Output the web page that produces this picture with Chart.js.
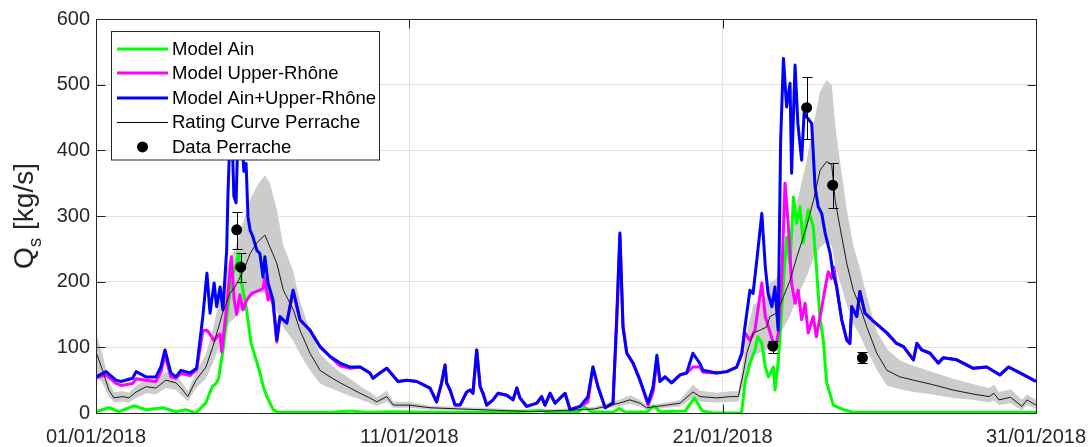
<!DOCTYPE html>
<html>
<head>
<meta charset="utf-8">
<script src="https://cdn.jsdelivr.net/npm/chart.js@4.4.1/dist/chart.umd.min.js"></script>
<style>
  html, body { margin: 0; padding: 0; background: #fff; }
  canvas { display: block; }
</style>
</head>
<body>
<canvas id="qsChart" width="1091" height="447"></canvas>
<script>
// x values are days since 01/01/2018, y values are Qs in kg/s

const xTickValues = [0, 10, 20, 30];
const xTickLabels = ['01/01/2018', '11/01/2018', '21/01/2018', '31/01/2018'];

// Model Ain+Upper-Rhône (blue)
const blueDays = [0, 0.32, 0.64, 0.80, 1.17, 1.28, 1.60, 1.91, 2.07, 2.20, 2.39, 2.55, 2.71, 3.00, 3.21,
  3.41, 3.54, 3.64, 3.77, 3.85, 3.96, 4.05, 4.17, 4.21, 4.28, 4.36, 4.40, 4.47, 4.53, 4.63, 4.72, 4.79,
  4.85, 4.92, 5.01, 5.13, 5.23, 5.33, 5.39, 5.49, 5.65, 5.77, 5.87, 6.09, 6.29, 6.51, 6.83, 7.15, 7.47,
  7.79, 8.11, 8.43, 8.74, 8.84, 9.06, 9.28, 9.64, 9.92, 10.24, 10.66, 10.87, 11.03, 11.14, 11.19, 11.30,
  11.46, 11.62, 11.83, 11.94, 12.03, 12.15, 12.26, 12.35, 12.47, 12.67, 12.83, 13.11, 13.31, 13.43, 13.53,
  13.75, 14.07, 14.22, 14.33, 14.49, 14.65, 14.97, 15.13, 15.45, 15.70, 15.86, 16.02, 16.25, 16.50, 16.62,
  16.72, 16.82, 16.94, 17.14, 17.36, 17.62, 17.78, 17.90, 18.00, 18.16, 18.37, 18.64, 18.85, 19.05, 19.28,
  19.37, 19.81, 20.13, 20.45, 20.61, 20.71, 20.87, 20.97, 21.09, 21.25, 21.36, 21.45, 21.57, 21.67, 21.77,
  21.85, 21.94, 22.04, 22.15, 22.20, 22.31, 22.40, 22.52, 22.60, 22.68, 22.84, 22.95, 23.05, 23.16, 23.27,
  23.43, 23.52, 23.64, 23.80, 23.96, 24.06, 24.12, 24.28, 24.38, 24.54, 24.76, 25.02, 25.24, 25.55, 25.77,
  26.09, 26.20, 26.35, 26.62, 26.88, 27.04, 27.47, 28.00, 28.43, 28.85, 29.12, 29.49, 30.00];
const blueValues = [55, 63, 50, 48, 53, 63, 55, 55, 70, 96, 61, 55, 65, 61, 68,
  147, 213, 152, 198, 162, 192, 157, 248, 330, 430, 395, 330, 320, 425, 440, 368, 380,
  299, 278, 268, 248, 243, 207, 238, 198, 172, 111, 147, 137, 187, 142, 126, 101, 86,
  76, 70, 70, 61, 53, 61, 68, 48, 50, 48, 38, 17, 46, 73, 46, 35,
  12, 12, 32, 35, 30, 96, 40, 30, 12, 20, 30, 27, 20, 38, 23,
  10, 15, 25, 12, 30, 15, 30, 5, 10, 25, 70, 40, 8, 15, 147,
  274, 131, 91, 76, 50, 15, 40, 88, 48, 55, 46, 58, 61, 91, 75,
  65, 61, 63, 70, 91, 131, 187, 182, 233, 304, 223, 182, 162, 192, 126,
  415, 540, 466, 502, 365, 530, 441, 385, 457, 451, 441, 344, 314, 304, 274,
  243, 213, 192, 142, 111, 106, 162, 147, 185, 152, 142, 131, 122, 106, 101,
  81, 106, 96, 91, 76, 84, 81, 68, 70, 58, 70, 61, 48];

// Model Upper-Rhône (magenta)
const magentaDays = [0, 0.32, 0.64, 0.80, 1.17, 1.28, 1.60, 1.91, 2.07, 2.20, 2.39, 2.55, 2.71, 3.00, 3.21,
  3.41, 3.54, 3.64, 3.77, 3.85, 3.96, 4.01, 4.17, 4.32, 4.41, 4.49, 4.59, 4.69, 4.81, 4.97, 5.23, 5.33,
  5.39, 5.49, 5.55, 5.65, 5.77, 5.87, 6.09, 6.29, 6.51, 6.83, 7.15, 7.47, 7.79, 8.11, 8.43, 8.74, 8.84,
  9.06, 9.28, 9.64, 9.92, 10.24, 10.66, 10.87, 11.03, 11.14, 11.19, 11.30, 11.46, 11.62, 11.83, 11.94,
  12.03, 12.15, 12.26, 12.35, 12.47, 12.67, 12.83, 13.11, 13.31, 13.43, 13.53, 13.75, 14.07, 14.22, 14.33,
  14.49, 14.65, 14.97, 15.13, 15.45, 15.70, 15.86, 16.02, 16.25, 16.50, 16.62, 16.72, 16.82, 16.94, 17.14,
  17.36, 17.62, 17.78, 17.90, 18.00, 18.16, 18.37, 18.64, 18.85, 19.05, 19.28, 19.37, 19.81, 20.13, 20.45,
  20.61, 20.71, 20.87, 21.03, 21.25, 21.36, 21.52, 21.67, 21.78, 21.88, 21.99, 22.09, 22.20, 22.31, 22.41,
  22.52, 22.63, 22.73, 22.89, 22.99, 23.15, 23.27, 23.37, 23.47, 23.55, 23.64, 23.80, 23.96, 24.06, 24.12,
  24.28, 24.38, 24.54, 24.76, 25.02, 25.24, 25.55, 25.77, 26.09, 26.20, 26.35, 26.62, 26.88, 27.04, 27.47,
  28.00, 28.43, 28.85, 29.12, 29.49, 30.00];
const magentaValues = [53, 58, 45, 42, 45, 52, 50, 48, 62, 88, 55, 53, 60, 57, 66,
  125, 126, 120, 110, 116, 120, 93, 162, 238, 172, 150, 180, 157, 172, 182, 187, 190,
  205, 172, 182, 165, 108, 145, 137, 187, 142, 126, 101, 86, 72, 68, 70, 61, 53,
  61, 68, 48, 50, 48, 38, 17, 46, 73, 46, 35, 12, 12, 32, 35,
  30, 96, 40, 30, 12, 20, 30, 27, 20, 38, 23, 10, 15, 25, 12,
  30, 15, 30, 5, 10, 17, 70, 40, 8, 15, 140, 270, 131, 91, 76,
  50, 12, 32, 80, 48, 55, 46, 58, 61, 70, 70, 62, 61, 63, 70,
  90, 122, 111, 126, 198, 147, 122, 96, 122, 198, 350, 289, 198, 167, 187,
  142, 167, 122, 147, 116, 157, 190, 215, 205, 222, 190, 142, 111, 106, 162,
  147, 185, 152, 142, 131, 122, 106, 101, 81, 106, 96, 91, 76, 84, 81,
  68, 70, 58, 70, 61, 48];

// Model Ain (green)
const greenDays = [0, 0.41, 0.73, 1.21, 1.60, 2.13, 2.55, 2.87, 3.19, 3.50, 3.71, 3.83, 3.91, 4.07, 4.24,
  4.35, 4.47, 4.55, 4.64, 4.79, 4.95, 5.11, 5.24, 5.34, 5.45, 5.66, 5.80, 6.5, 7.5, 8.1,
  8.6, 9.5, 10.5, 11.5, 13.0, 14.2, 14.5, 15.4, 15.6, 15.8, 16.5, 16.7, 16.9, 17.6, 17.8,
  18.0, 18.8, 19.1, 19.35, 19.7, 20.55, 20.61, 20.71, 20.87, 21.03, 21.12, 21.25, 21.36, 21.46, 21.62,
  21.67, 21.78, 21.94, 22.04, 22.15, 22.26, 22.36, 22.47, 22.57, 22.73, 22.89, 22.99, 23.10, 23.21, 23.32,
  23.53, 23.85, 24.2, 27, 30];
const greenValues = [2, 8, 2, 11, 5, 8, 2, 5, 0, 15, 40, 45, 52, 101, 172,
  210, 225, 243, 200, 162, 106, 81, 60, 40, 25, 5, 1, 1, 1, 3,
  1, 2, 1, 1, 1, 4, 1, 2, 9, 2, 1, 7, 1, 2, 11,
  2, 3, 23, 3, 0, 0, 2, 46, 76, 96, 116, 106, 70, 55, 70,
  35, 81, 198, 268, 228, 329, 289, 314, 259, 309, 284, 223, 147, 111, 46,
  12, 5, 1, 1, 1];

// Rating curve Perrache (black) and its uncertainty band (grey)
const ratingDays = [0, 0.21, 0.41, 0.57, 0.85, 1.05, 1.28, 1.60, 1.91, 2.23, 2.55, 2.77, 2.93, 3.19, 3.51,
  3.73, 4.04, 4.27, 4.44, 4.60, 4.76, 4.92, 5.13, 5.39, 5.55, 5.77, 5.98, 6.30, 6.51, 6.83,
  7.15, 7.47, 7.79, 8.11, 8.43, 8.74, 8.96, 9.28, 9.49, 10.0, 10.66, 11.7, 12.8, 13.9, 15.0,
  15.9, 16.7, 17.04, 17.36, 17.57, 18.22, 18.64, 19.05, 19.28, 19.81, 20.24, 20.5, 20.66, 20.77, 20.98,
  21.19, 21.40, 21.51, 21.72, 21.94, 22.15, 22.37, 22.68, 22.90, 23.11, 23.32, 23.48, 23.59, 23.74, 23.96,
  24.17, 24.38, 24.60, 24.92, 25.24, 25.66, 26.09, 26.72, 27.35, 27.98, 28.5, 28.66, 28.82, 29.19, 29.55,
  29.71, 30];
const ratingValues = [93, 65, 35, 23, 25, 23, 32, 40, 38, 50, 46, 35, 25, 50, 70,
  101, 152, 182, 192, 207, 223, 243, 259, 271, 253, 228, 187, 157, 126, 91,
  65, 55, 46, 38, 30, 23, 17, 25, 12, 12, 8, 6, 4, 2, 4,
  6, 15, 20, 15, 8, 12, 15, 32, 25, 23, 25, 25, 61, 91, 122,
  126, 131, 147, 152, 177, 202, 238, 284, 324, 370, 383, 378, 324, 284, 228,
  187, 162, 131, 91, 65, 55, 50, 43, 35, 29, 25, 30, 20, 24, 10,
  20, 12];
const bandUpper = [122, 90, 48, 32, 33, 31, 42, 51, 49, 63, 58, 45, 33, 62, 90,
  128, 195, 235, 250, 275, 300, 325, 345, 362, 350, 310, 255, 215, 170, 125,
  90, 75, 62, 52, 41, 32, 24, 34, 17, 17, 11, 9, 7, 5, 7,
  9, 20, 27, 20, 11, 16, 20, 43, 34, 31, 33, 33, 82, 122, 165,
  170, 177, 198, 205, 240, 272, 320, 385, 440, 490, 507, 500, 440, 385, 310,
  255, 220, 178, 124, 98, 80, 72, 62, 52, 44, 38, 43, 32, 36, 20,
  28, 20];
const bandLower = [60, 45, 25, 16, 17, 16, 23, 30, 28, 38, 35, 25, 17, 38, 52,
  76, 115, 138, 145, 155, 165, 178, 185, 182, 172, 155, 130, 110, 90, 65,
  45, 38, 32, 26, 21, 15, 11, 17, 8, 8, 5, 4, 2, 1, 2,
  4, 10, 14, 10, 5, 8, 10, 23, 17, 16, 17, 17, 45, 67, 88,
  92, 96, 108, 111, 130, 148, 175, 208, 236, 252, 260, 255, 225, 200, 165,
  135, 118, 95, 66, 42, 36, 32, 28, 23, 20, 16, 19, 12, 15, 4,
  12, 6];

// Data Perrache with error bars
const dataDays = [4.49, 4.62, 21.60, 22.68, 23.51, 24.46];
const dataValues = [279, 222, 102, 465, 347, 84];
const dataLow = [250, 200, 92, 418, 312, 76];
const dataHigh = [306, 243, 110, 511, 381, 93];

const FONT = "'Liberation Sans', Arial, Helvetica, sans-serif";
const AXIS_COLOR = '#262626';

const xy = (xs, ys) => xs.map((x, i) => ({ x: x, y: ys[i] }));

const legendItems = [
    { label: 'Model Ain', color: '#00ff00', width: 3 },
    { label: 'Model Upper-Rhône', color: '#ff00ff', width: 3 },
    { label: 'Model Ain+Upper-Rhône', color: '#0000ff', width: 3 },
    { label: 'Rating Curve Perrache', color: '#000000', width: 1 },
    { label: 'Data Perrache', dot: true }
];

function drawErrorBars(chart) {
    const ctx = chart.ctx;
    const xs = chart.scales.x;
    const ys = chart.scales.y;
    ctx.save();
    ctx.strokeStyle = '#000';
    ctx.lineWidth = 1;
    dataDays.forEach((d, i) => {
        const px = Math.round(xs.getPixelForValue(d)) + 0.5;
        const top = Math.round(ys.getPixelForValue(dataHigh[i])) + 0.5;
        const bot = Math.round(ys.getPixelForValue(dataLow[i])) + 0.5;
        ctx.beginPath();
        ctx.moveTo(px, top); ctx.lineTo(px, bot);
        ctx.moveTo(px - 5, top); ctx.lineTo(px + 5, top);
        ctx.moveTo(px - 5, bot); ctx.lineTo(px + 5, bot);
        ctx.stroke();
    });
    ctx.restore();
}

const framePlugin = {
    id: 'frame',
    afterDatasetDraw(chart, args) {
        // error bars sit above the rating curve, below the data dots
        if (args.index === 1) drawErrorBars(chart);
    },
    afterDraw(chart) {
        const ctx = chart.ctx;
        const a = chart.chartArea;
        const xs = chart.scales.x;
        const ys = chart.scales.y;
        const L = Math.round(a.left) + 0.5, R = Math.round(a.right) + 0.5;
        const T = Math.round(a.top) + 0.5, B = Math.round(a.bottom) + 0.5;

        ctx.save();
        ctx.strokeStyle = AXIS_COLOR;
        ctx.lineWidth = 1;
        ctx.strokeRect(L, T, R - L, B - T);

        // inward tick marks
        ctx.beginPath();
        ys.ticks.forEach(t => {
            const py = Math.round(ys.getPixelForValue(t.value)) + 0.5;
            ctx.moveTo(L, py); ctx.lineTo(L + 9, py);
            ctx.moveTo(R, py); ctx.lineTo(R - 9, py);
        });
        xTickValues.forEach(v => {
            const px = Math.round(xs.getPixelForValue(v)) + 0.5;
            ctx.moveTo(px, B); ctx.lineTo(px, B - 9);
            ctx.moveTo(px, T); ctx.lineTo(px, T + 9);
        });
        ctx.stroke();

        // y axis title: Q_s [kg/s]
        ctx.translate(33, (a.top + a.bottom) / 2);
        ctx.rotate(-Math.PI / 2);
        ctx.fillStyle = AXIS_COLOR;
        ctx.textBaseline = 'alphabetic';
        ctx.textAlign = 'left';
        const big = '28px ' + FONT, small = '19px ' + FONT;
        ctx.font = big;
        const wQ = ctx.measureText('Q').width;
        const wRest = ctx.measureText(' [kg/s]').width;
        ctx.font = small;
        const wS = ctx.measureText('s').width;
        let x0 = -(wQ + wS + wRest) / 2;
        ctx.font = big;
        ctx.fillText('Q', x0, 0);
        ctx.font = small;
        ctx.fillText('s', x0 + wQ, 8);
        ctx.font = big;
        ctx.fillText(' [kg/s]', x0 + wQ + wS, 0);
        ctx.restore();

        // legend box
        ctx.save();
        ctx.fillStyle = '#fff';
        ctx.strokeStyle = AXIS_COLOR;
        ctx.lineWidth = 1;
        ctx.fillRect(111.5, 31.5, 268, 128.5);
        ctx.strokeRect(111.5, 31.5, 268, 128.5);
        ctx.font = '18.5px ' + FONT;
        ctx.textBaseline = 'middle';
        ctx.textAlign = 'left';
        legendItems.forEach((item, i) => {
            const y = 48.5 + i * 24.6;
            if (item.dot) {
                ctx.fillStyle = '#000';
                ctx.beginPath();
                ctx.arc(142.5, y, 5.5, 0, Math.PI * 2);
                ctx.fill();
            } else {
                ctx.strokeStyle = item.color;
                ctx.lineWidth = item.width;
                ctx.beginPath();
                ctx.moveTo(117, Math.round(y) + (item.width === 1 ? 0.5 : 0));
                ctx.lineTo(168, Math.round(y) + (item.width === 1 ? 0.5 : 0));
                ctx.stroke();
            }
            ctx.fillStyle = '#000';
            ctx.fillText(item.label, 172, y + 1);
        });
        ctx.restore();
    }
};

const lineStyle = (color, width) => ({
    borderColor: color,
    backgroundColor: color,
    borderWidth: width,
    pointRadius: 0,
    tension: 0,
    fill: false,
    borderJoinStyle: 'round'
});

new Chart(document.getElementById('qsChart'), {
    type: 'line',
    data: {
        datasets: [
            {
                label: 'Data Perrache',
                data: xy(dataDays, dataValues),
                showLine: false,
                pointRadius: 5.5,
                pointBackgroundColor: '#000',
                pointBorderWidth: 0,
                order: 0
            },
            Object.assign({ label: 'Rating Curve Perrache', data: xy(ratingDays, ratingValues), order: 1 }, lineStyle('#1a1a1a', 1)),
            Object.assign({ label: 'Model Ain+Upper-Rhône', data: xy(blueDays, blueValues), order: 2 }, lineStyle('#0000ff', 3)),
            Object.assign({ label: 'Model Upper-Rhône', data: xy(magentaDays, magentaValues), order: 3 }, lineStyle('#ff00ff', 3)),
            Object.assign({ label: 'Model Ain', data: xy(greenDays, greenValues), order: 4 }, lineStyle('#00ff00', 3)),
            {
                label: 'band upper',
                data: xy(ratingDays, bandUpper),
                borderWidth: 0,
                borderColor: 'rgba(0,0,0,0)',
                pointRadius: 0,
                tension: 0,
                backgroundColor: '#cccccc',
                fill: '+1',
                order: 5
            },
            {
                label: 'band lower',
                data: xy(ratingDays, bandLower),
                borderWidth: 0,
                borderColor: 'rgba(0,0,0,0)',
                pointRadius: 0,
                tension: 0,
                fill: false,
                order: 6
            }
        ]
    },
    options: {
        responsive: false,
        devicePixelRatio: 1,
        animation: false,
        layout: { padding: { top: 19, right: 55, bottom: 0, left: 0 } },
        plugins: {
            legend: { display: false },
            tooltip: { enabled: false }
        },
        scales: {
            x: {
                type: 'linear',
                min: 0,
                max: 30,
                grid: { color: '#e3e3e3', drawTicks: false },
                border: { display: false },
                ticks: {
                    stepSize: 10,
                    autoSkip: false,
                    maxRotation: 0,
                    padding: 12,
                    color: AXIS_COLOR,
                    font: { family: FONT, size: 20 },
                    callback: v => {
                        const i = xTickValues.indexOf(v);
                        return i >= 0 ? xTickLabels[i] : '';
                    }
                },
                afterFit: s => {
                    s.height = 34;
                    s.paddingLeft = 0;
                    s.paddingRight = 0;
                }
            },
            y: {
                min: 0,
                max: 600,
                grid: { color: '#e3e3e3', drawTicks: false },
                border: { display: false },
                ticks: {
                    stepSize: 100,
                    padding: 6,
                    color: AXIS_COLOR,
                    font: { family: FONT, size: 20 }
                },
                afterFit: s => {
                    s.width = 96;
                    s.paddingTop = 0;
                    s.paddingBottom = 0;
                }
            }
        }
    },
    plugins: [framePlugin]
});
</script>
</body>
</html>
